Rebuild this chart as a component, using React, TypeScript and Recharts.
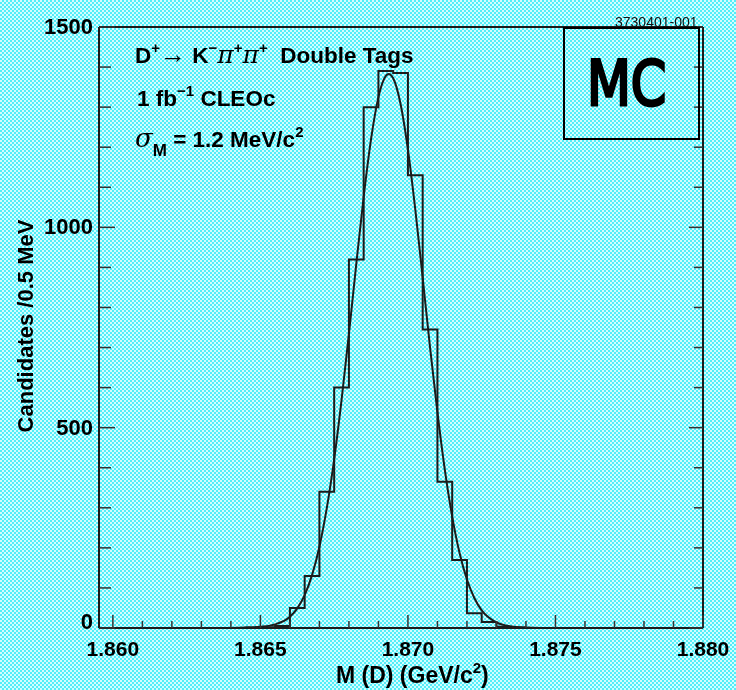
import { ComposedChart, Line, XAxis, YAxis } from 'recharts';

// histogram: left edge of each 0.5 MeV bin and its content
const binStarts = [
    1.8645, 1.865, 1.8655, 1.866, 1.8665, 1.867, 1.8675, 1.868, 1.8685, 1.869,
    1.8695, 1.87, 1.8705, 1.871, 1.8715, 1.872, 1.8725, 1.873, 1.8735,
];
const binCounts = [1, 2, 5, 50, 130, 340, 600, 920, 1300, 1390, 1385, 1130, 745, 365, 170, 37, 15, 3, 1];

// fitted curve
const fitMass = [
    1.864, 1.8645, 1.865, 1.8655, 1.866, 1.86625, 1.8665, 1.86675, 1.867, 1.86725, 1.8675,
    1.86775, 1.868, 1.86825, 1.8685, 1.86875, 1.869, 1.86925, 1.86935, 1.8695, 1.86975,
    1.87, 1.87025, 1.8705, 1.87075, 1.871, 1.87125, 1.8715, 1.87175, 1.872, 1.87225,
    1.8725, 1.873, 1.8735, 1.874, 1.8745,
];
const fitCounts = [
    0, 1, 3, 9, 28, 49, 82, 132, 203, 299, 421,
    569, 734, 909, 1076, 1220, 1325, 1378, 1383, 1372, 1308,
    1194, 1044, 874, 700, 538, 395, 278, 187, 121, 75,
    44, 14, 4, 1, 0,
];

const massLabels = [1.86, 1.865, 1.87, 1.875, 1.88];
const countLabels = [0, 500, 1000, 1500];

const massTicks = Array.from({ length: 21 }, (_, i) => +(1.86 + i * 0.001).toFixed(3));
const countTicks = Array.from({ length: 16 }, (_, i) => i * 100);

const histData = binStarts.map((x, i) => ({ x, y: binCounts[i] }));
histData.push({ x: +(binStarts[binStarts.length - 1] + 0.0005).toFixed(4), y: binCounts[binCounts.length - 1] });
const fitData = fitMass.map((x, i) => ({ x, y: fitCounts[i] }));

const ink = '#1c1c1c';
const font = '"Liberation Sans", Arial, sans-serif';

const BottomTick = (props: any) => {
    const { x, y, payload } = props;
    const major = massLabels.includes(payload.value);
    return (
        <g>
            <line x1={x} y1={y} x2={x} y2={y - (major ? 13 : 7)} stroke="#333" strokeWidth={1.5} />
            {major && (
                <text x={x} y={y + 28} textAnchor="middle" fontFamily={font} fontWeight="bold" fontSize={21} fill="#000">
                    {payload.value.toFixed(3)}
                </text>
            )}
        </g>
    );
};

const TopTick = (props: any) => {
    const { x, y, payload } = props;
    const major = massLabels.includes(payload.value);
    return <line x1={x} y1={y} x2={x} y2={y + (major ? 16 : 8)} stroke="#333" strokeWidth={1.5} />;
};

const LeftTick = (props: any) => {
    const { x, y, payload } = props;
    const major = countLabels.includes(payload.value);
    // the zero label sits a little higher so it clears the x labels
    const dy = payload.value === 0 ? 1 : 7;
    return (
        <g>
            <line x1={x} y1={y} x2={x + (major ? 16 : 12)} y2={y} stroke="#333" strokeWidth={1.5} />
            {major && (
                <text x={x - 6} y={y + dy} textAnchor="end" fontFamily={font} fontWeight="bold" fontSize={22} fill="#000">
                    {payload.value}
                </text>
            )}
        </g>
    );
};

const RightTick = (props: any) => {
    const { x, y, payload } = props;
    const major = countLabels.includes(payload.value);
    return <line x1={x} y1={y} x2={x - (major ? 14 : 9)} y2={y} stroke="#333" strokeWidth={1.5} />;
};

const note: React.CSSProperties = {
    position: 'absolute',
    fontFamily: font,
    fontWeight: 'bold',
    fontSize: 22.5,
    lineHeight: '22px',
    color: '#000',
    whiteSpace: 'nowrap',
};
const greek: React.CSSProperties = {
    fontFamily: '"DejaVu Serif", serif',
    fontStyle: 'italic',
    fontWeight: 'normal',
    fontSize: 25,
};
const sup: React.CSSProperties = { fontSize: 15, verticalAlign: 10, lineHeight: 0 };

export default function App() {
    return (
        <div
            style={{
                position: 'fixed',
                left: 0,
                top: 0,
                width: 736,
                height: 690,
                background: 'repeating-conic-gradient(#52eef8 0% 25%, #d2fdff 0% 50%) 0 0 / 4px 4px',
            }}
        >
            <ComposedChart width={736} height={690} margin={{ top: 0, right: 0, left: 0, bottom: 0 }}>
                <XAxis
                    dataKey="x"
                    type="number"
                    domain={[1.85953, 1.88]}
                    allowDataOverflow
                    ticks={massTicks}
                    interval={0}
                    tick={<BottomTick />}
                    tickLine={false}
                    tickSize={0}
                    tickMargin={0}
                    height={62}
                    axisLine={{ stroke: ink, strokeWidth: 2 }}
                />
                <XAxis
                    xAxisId="top"
                    orientation="top"
                    type="number"
                    domain={[1.85953, 1.88]}
                    allowDataOverflow
                    ticks={massTicks}
                    interval={0}
                    tick={<TopTick />}
                    tickLine={false}
                    tickSize={0}
                    tickMargin={0}
                    height={27}
                    axisLine={{ stroke: ink, strokeWidth: 2 }}
                />
                <YAxis
                    type="number"
                    domain={[0, 1500]}
                    allowDataOverflow
                    ticks={countTicks}
                    interval={0}
                    tick={<LeftTick />}
                    tickLine={false}
                    tickSize={0}
                    tickMargin={0}
                    width={99}
                    axisLine={{ stroke: ink, strokeWidth: 2 }}
                />
                <YAxis
                    yAxisId="right"
                    orientation="right"
                    type="number"
                    domain={[0, 1500]}
                    allowDataOverflow
                    ticks={countTicks}
                    interval={0}
                    tick={<RightTick />}
                    tickLine={false}
                    tickSize={0}
                    tickMargin={0}
                    width={33}
                    axisLine={{ stroke: ink, strokeWidth: 2 }}
                />
                <Line
                    data={histData}
                    dataKey="y"
                    type="stepAfter"
                    stroke={ink}
                    strokeWidth={2}
                    dot={false}
                    isAnimationActive={false}
                />
                <Line
                    data={fitData}
                    dataKey="y"
                    type="monotone"
                    stroke={ink}
                    strokeWidth={2}
                    dot={false}
                    isAnimationActive={false}
                />
            </ComposedChart>

            {/* axis titles */}
            <div style={{ ...note, fontSize: 23, left: 336, top: 664 }}>
                M (D) (GeV/c<span style={sup}>2</span>)
            </div>
            <div
                style={{
                    ...note,
                    fontSize: 22,
                    left: 26,
                    top: 326,
                    transform: 'translate(-50%, -50%) rotate(-90deg)',
                }}
            >
                Candidates /0.5 MeV
            </div>

            {/* annotations */}
            <div style={{ ...note, left: 135, top: 44 }}>
                D<span style={sup}>+</span>
                <span style={{ fontSize: 26, lineHeight: 0 }}>→</span> K<span style={sup}>−</span>
                <span style={greek}>π</span>
                <span style={sup}>+</span>
                <span style={greek}>π</span>
                <span style={sup}>+</span>&nbsp; Double Tags
            </div>
            <div style={{ ...note, left: 137, top: 88 }}>
                1 fb<span style={sup}>−1</span> CLEOc
            </div>
            <div style={{ ...note, left: 135, top: 127 }}>
                <span style={{ ...greek, fontSize: 26 }}>σ</span>
                <span style={{ fontSize: 17, verticalAlign: -9, lineHeight: 0 }}>M</span> = 1.2 MeV/c
                <span style={sup}>2</span>
            </div>

            <div style={{ ...note, fontSize: 14, fontWeight: 'normal', left: 615, top: 11, color: '#111' }}>
                3730401-001
            </div>

            <div
                style={{
                    position: 'absolute',
                    left: 563,
                    top: 27,
                    width: 133,
                    height: 109,
                    border: '2px solid #000',
                }}
            >
                <div
                    style={{
                        position: 'absolute',
                        left: 22,
                        top: 24,
                        fontFamily: '"DejaVu Sans", sans-serif',
                        fontWeight: 'normal',
                        fontSize: 62,
                        lineHeight: '62px',
                        WebkitTextStroke: '3px #000',
                        transform: 'scaleX(0.82)',
                        transformOrigin: 'left top',
                    }}
                >
                    MC
                </div>
            </div>
        </div>
    );
}
